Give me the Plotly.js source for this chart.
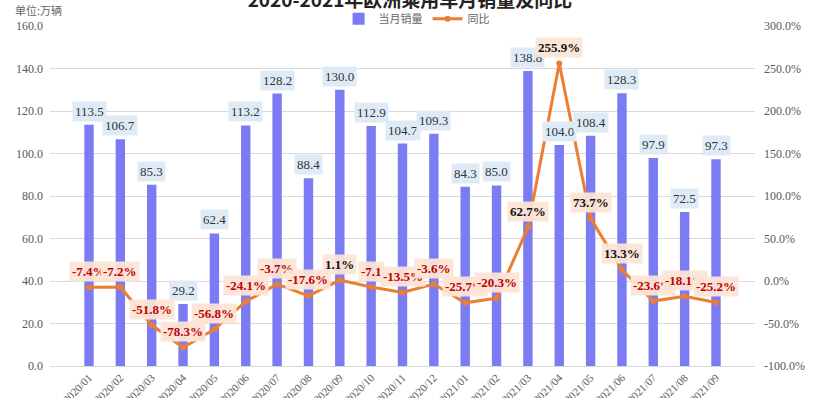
<!DOCTYPE html>
<html><head><meta charset="utf-8">
<script src="https://cdn.plot.ly/plotly-3.0.1.min.js"></script>
<style>html,body{margin:0;padding:0;background:#fff}#c{width:820px;height:398px}</style>
</head><body><div id="c"></div>
<script>
const months = ["2020/01","2020/02","2020/03","2020/04","2020/05","2020/06","2020/07","2020/08","2020/09","2020/10","2020/11","2020/12","2021/01","2021/02","2021/03","2021/04","2021/05","2021/06","2021/07","2021/08","2021/09"];
const sales = [113.5,106.7,85.3,29.2,62.4,113.2,128.2,88.4,130.0,112.9,104.7,109.3,84.3,85.0,138.8,104.0,108.4,128.3,97.9,72.5,97.3];
const yoy = [-7.4,-7.2,-51.8,-78.3,-56.8,-24.1,-3.7,-17.6,1.1,-7.1,-13.5,-3.6,-25.7,-20.3,62.7,255.9,73.7,13.3,-23.6,-18.1,-25.2];
const yoyLabels = ["-7.4%","-7.2%","-51.8%","-78.3%","-56.8%","-24.1%","-3.7%","-17.6%","1.1%","-7.1","-13.5%","-3.6%","-25.7%","-20.3%","62.7%","255.9%","73.7%","13.3%","-23.6%","-18.1%","-25.2%"];
const leftTicks = [0,20,40,60,80,100,120,140,160];
const rightTicks = [-100,-50,0,50,100,150,200,250,300];

const serif = "Liberation Serif, Times New Roman, serif";
const cjk = "Noto Sans CJK SC, sans-serif";

const traces = [
  {type:'bar', name:'当月销量', x:months, y:sales, marker:{color:'#7B7BF4'}, hoverinfo:'none'},
  {type:'scatter', mode:'lines+markers', name:'同比', x:months, y:yoy, yaxis:'y2',
   line:{color:'#ED7D31', width:3}, marker:{color:'#ED7D31', size:6}, hoverinfo:'none'}
];

const annotations = [];
sales.forEach((v,i)=>{
  annotations.push({x:months[i], y:v, xref:'x', yref:'y', text:v.toFixed(1), showarrow:false,
    yanchor:'bottom', yshift:3, bgcolor:'#DEEBF7', borderpad:2,
    font:{family:serif, size:13, color:'#333333'}});
});
yoy.forEach((v,i)=>{
  annotations.push({x:months[i], y:v, xref:'x', yref:'y2', text:'<b>'+yoyLabels[i]+'</b>', showarrow:false,
    yanchor:'middle', yshift:16, bgcolor:'rgba(251,229,214,0.95)', borderpad:2,
    font:{family:serif, size:13, color: v<0 ? '#C00000' : '#111111'}});
});
annotations.push({xref:'paper', yref:'paper', x:-0.052, y:1.047, xanchor:'left', yanchor:'middle',
  text:'单位:万辆', showarrow:false, font:{family:cjk, size:11, color:'#666'}});

const layout = {
  width:820, height:398,
  margin:{l:50, r:65, t:26, b:32, autoexpand:false},
  paper_bgcolor:'#fff', plot_bgcolor:'#fff',
  title:{text:'<b>2020-2021年欧洲乘用车月销量及同比</b>', x:0.5, xanchor:'center', yref:'container', y:1, yanchor:'middle',
    font:{family:cjk, size:19, color:'#222'}},
  showlegend:true,
  legend:{orientation:'h', x:0.52, xanchor:'center', yref:'container', y:0.953, yanchor:'middle',
    font:{family:cjk, size:11, color:'#666'}, bgcolor:'rgba(0,0,0,0)'},
  bargap:0.7,
  xaxis:{type:'category', tickangle:-45, showgrid:false, showline:true, linecolor:'#d9d9d9', automargin:false,
    ticks:'', tickfont:{family:serif, size:11, color:'#595959'}},
  yaxis:{range:[0,160], tickvals:leftTicks, ticktext:leftTicks.map(v=>v.toFixed(1)), automargin:false,
    showgrid:true, gridcolor:'#d9d9d9', gridwidth:1, zeroline:false, showline:false,
    tickfont:{family:serif, size:12, color:'#595959'}, ticklabelstandoff:6},
  yaxis2:{range:[-100,300], overlaying:'y', side:'right', tickvals:rightTicks, automargin:false,
    ticktext:rightTicks.map(v=>v.toFixed(1)+'%'), showgrid:false, zeroline:false, showline:false,
    tickfont:{family:serif, size:12, color:'#595959'}, ticklabelstandoff:8},
  annotations:annotations
};
Plotly.newPlot('c', traces, layout, {displayModeBar:false, staticPlot:true});
</script></body></html>
